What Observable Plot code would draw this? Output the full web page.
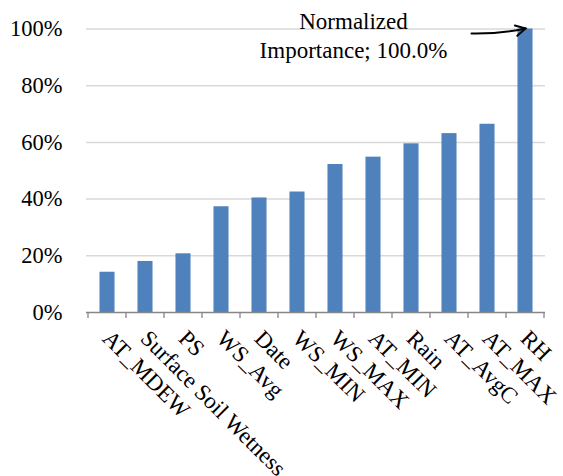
<!DOCTYPE html>
<html><head><meta charset="utf-8">
<script src="https://cdn.jsdelivr.net/npm/d3@7"></script>
<script src="https://cdn.jsdelivr.net/npm/@observablehq/plot@0.6"></script>
<style>body{margin:0;background:#fff;} #chart svg{display:block;} #chart svg text{font-family:"Liberation Serif",serif;}</style>
</head><body><div id="chart"></div>
<script>
const categories = ["AT_MDEW","Surface Soil Wetness","PS","WS_Avg","Date","WS_MIN","WS_MAX","AT_MIN","Rain","AT_AvgC","AT_MAX","RH"];
const importance = [14.2,18.0,20.7,37.3,40.4,42.5,52.2,54.8,59.5,63.1,66.4,100.0];
const yTicks = [0,20,40,60,80,100];
const gridTicks = [20,40,60,80,100];
const annotationText = "Normalized\nImportance; 100.0%";
const data = categories.map((c,i)=>({feature:c, value:importance[i]}));
const topBar = data[data.length-1];

const W=563,H=476, mL=86, mR=18, mT=28.5, mB=164;
const band = (W-mL-mR)/categories.length;
const barW = 15.3;
const inset = (band-barW)/2;
const font = "Liberation Serif";

function axisTicks(index, scales, values, dims) {
  const x = scales.x, y = scales.y;
  const bw = x.bandwidth ? x.bandwidth() : band;
  const y0 = y(0);
  const g = d3.create("svg:g").attr("stroke","#868686").attr("stroke-width",1.3);
  const xs = categories.map(c=>x(c)).concat([x(categories[categories.length-1])+bw]);
  for (const px of xs) g.append("line").attr("x1",px).attr("x2",px).attr("y1",y0).attr("y2",y0+6);
  return g.node();
}
function arrowMark(index, scales) {
  const x = scales.x, y = scales.y;
  const bw = x.bandwidth ? x.bandwidth() : band;
  const ex = x(topBar.feature)+bw/2+0.5, ey = y(topBar.value);
  const sx = ex-54, sy = ey+5;
  const cx = sx+30, cy = sy+0.5;
  const g = d3.create("svg:g").attr("fill","none").attr("stroke","#000").attr("stroke-width",2).attr("stroke-linecap","round");
  g.append("path").attr("d",`M${sx},${sy} Q${cx},${cy} ${ex},${ey}`);
  const a = Math.atan2(ey-cy, ex-cx);
  const L = 11, spread = 0.5;
  g.append("path").attr("d",`M${ex-L*Math.cos(a-spread)},${ey-L*Math.sin(a-spread)} L${ex},${ey} L${ex-L*Math.cos(a+spread)},${ey-L*Math.sin(a+spread)}`);
  return g.node();
}

const chart = Plot.plot({
  width: W, height: H,
  marginLeft: mL, marginRight: mR, marginTop: mT, marginBottom: mB,
  style: "font-family: 'Liberation Serif', serif; font-size: 22px; color: #000; background: #fff;",
  x: {domain: categories, padding: 0, axis: null},
  y: {domain: [0,100], axis: null},
  marks: [
    Plot.ruleY(gridTicks, {stroke:"#d9d9d9", strokeWidth:1.5}),
    Plot.barY(data, {x:"feature", y:"value", fill:"#4f81bd", insetLeft:inset, insetRight:inset}),
    Plot.ruleY([0], {stroke:"#868686", strokeWidth:1.3}),
    axisTicks,
    Plot.axisY({ticks: yTicks, tickFormat: d=>d+"%", tickSize:0, tickPadding:24, fontSize:22.5, fontFamily:font, label:null}),
    Plot.axisX({tickRotate:45, tickSize:0, tickPadding:16, dx:-1, dy:6, fontSize:23, fontFamily:font, label:null}),
    Plot.text([topBar], {x:"feature", y:"value", text: ()=>annotationText, dx:-172, dy:5, lineHeight:1.27, fontSize:23, fontFamily:font, textAnchor:"middle", fill:"#000"}),
    arrowMark
  ]
});
document.getElementById("chart").appendChild(chart);
</script>
</body></html>
